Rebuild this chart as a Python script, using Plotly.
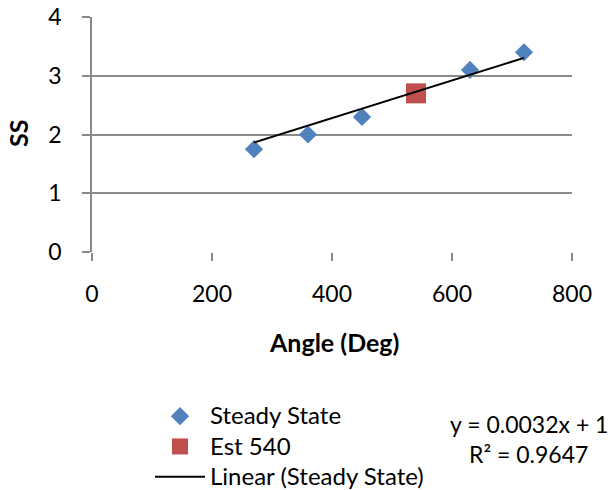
import plotly.graph_objects as go

# Data
steady_angle = [270, 360, 450, 630, 720]
steady_ss = [1.75, 2.0, 2.3, 3.1, 3.4]
est_angle = [540]
est_ss = [2.7]
trend_slope = 0.0032
trend_intercept = 1.0
trend_r2 = 0.9647
x_ticks = [0, 200, 400, 600, 800]
y_ticks = [0, 1, 2, 3, 4]
legend_names = ["Steady State", "Est 540", "Linear (Steady State)"]

FONT = "Lato"
GRID = "#8a8a8a"
W, H = 613, 490
L, R, T, B = 92, 41, 17, 238
PW, PH = W - L - R, H - T - B


def px_x(x):
    return (x - L) / PW


def px_y(y):
    return (H - B - y) / PH


def leg(name):
    return f'<span style="font-size:24px">{name}</span>'


trend_x = [min(steady_angle), max(steady_angle)]
trend_y = [trend_slope * v + trend_intercept for v in trend_x]

fig = go.Figure()
fig.add_trace(go.Scatter(
    x=steady_angle, y=steady_ss, mode="markers", name=leg(legend_names[0]),
    marker=dict(symbol="diamond", size=14, color="#4F81BD", line=dict(width=0)),
))
fig.add_trace(go.Scatter(
    x=est_angle, y=est_ss, mode="markers", name=leg(legend_names[1]),
    marker=dict(symbol="square", size=20, color="#C0504D", line=dict(width=0)),
))
fig.add_trace(go.Scatter(
    x=trend_x, y=trend_y, mode="lines", name=leg(legend_names[2]),
    line=dict(color="black", width=2),
))

fig.add_annotation(text=f"y = {trend_slope}x + {trend_intercept:g}", xref="paper", yref="paper",
                   x=px_x(529), y=px_y(424), showarrow=False,
                   font=dict(family=FONT, size=23, color="black"), xanchor="center", yanchor="middle")
fig.add_annotation(text=f"R² = {trend_r2}", xref="paper", yref="paper",
                   x=px_x(528), y=px_y(454), showarrow=False,
                   font=dict(family=FONT, size=23, color="black"), xanchor="center", yanchor="middle")
# Axis titles
fig.add_annotation(text="<b>Angle (Deg)</b>", xref="paper", yref="paper",
                   x=px_x(334), y=px_y(342), showarrow=False,
                   font=dict(family=FONT, size=25, color="black"), xanchor="center", yanchor="middle")
fig.add_annotation(text="<b>SS</b>", xref="paper", yref="paper", textangle=-90,
                   x=px_x(18), y=px_y(134), showarrow=False,
                   font=dict(family=FONT, size=25, color="black"), xanchor="center", yanchor="middle")

fig.update_layout(
    width=W, height=H,
    margin=dict(l=L, r=R, t=T, b=B, autoexpand=False),
    paper_bgcolor="white", plot_bgcolor="white",
    font=dict(family=FONT, size=21, color="black"),
    showlegend=True,
    legend=dict(xref="container", yref="container",
                x=150 / W, y=(H - 396) / H, xanchor="left", yanchor="top",
                font=dict(family=FONT, size=21, color="black"),
                bgcolor="rgba(0,0,0,0)", itemwidth=50, tracegroupgap=0),
)
fig.update_xaxes(
    range=[0, 800], tickvals=x_ticks, ticktext=[str(v) for v in x_ticks],
    showgrid=False, zeroline=False, showline=False, automargin=False,
    ticks="outside", ticklen=8, tickwidth=1.5, tickcolor=GRID,
    ticklabelstandoff=13, tickfont=dict(family=FONT, size=23),
)
fig.update_yaxes(
    range=[0, 4], tickvals=y_ticks, ticktext=[str(v) for v in y_ticks],
    showgrid=True, gridcolor=GRID, gridwidth=1.5, zeroline=False, automargin=False,
    showline=True, linecolor=GRID, linewidth=1.5,
    ticks="outside", ticklen=8, tickwidth=1.5, tickcolor=GRID,
    ticklabelstandoff=16, tickfont=dict(family=FONT, size=23),
)

fig.write_html("out.html")
